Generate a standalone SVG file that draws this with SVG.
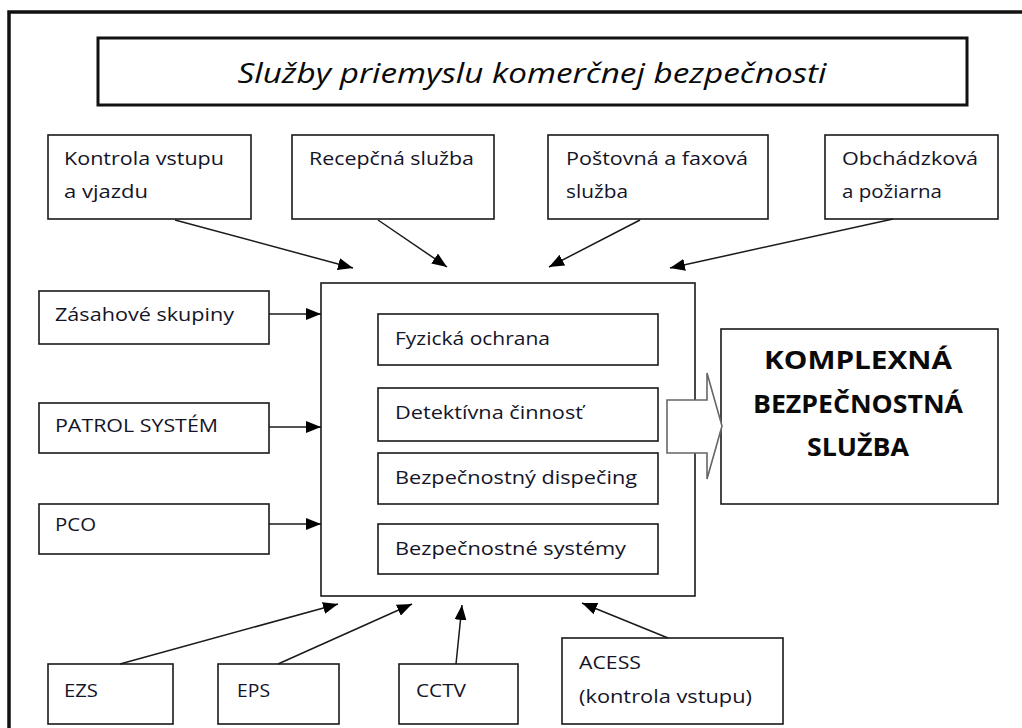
<svg xmlns="http://www.w3.org/2000/svg" width="1022" height="728" viewBox="0 0 1022 728">
  <style>
    .box { fill: #fff; stroke: #1a1a1a; stroke-width: 1.6; }
    .txt { font-family: "Open Sans", "Liberation Sans", sans-serif; font-size: 18.5px; fill: #141428; }
    .big { font-family: "Open Sans", "Liberation Sans", sans-serif; font-size: 25px; font-weight: bold; fill: #0a0a0a; text-anchor: middle; }
    .title { font-family: "Open Sans", "Liberation Sans", sans-serif; font-size: 27px; font-style: italic; fill: #0a0a0a; text-anchor: middle; }
    .conn { stroke: #1a1a1a; stroke-width: 1.5; fill: none; marker-end: url(#head); }
  </style>
  <defs>
    <marker id="head" markerUnits="userSpaceOnUse" markerWidth="16" markerHeight="12" refX="15" refY="6" orient="auto">
      <path d="M0,0 L15,6 L0,12 Z" fill="#000"/>
    </marker>
  </defs>
  <rect width="1022" height="728" fill="#fff"/>

  <!-- outer frame -->
  <path d="M9,728 V12 H1022" fill="none" stroke="#111" stroke-width="3.5"/>

  <!-- title -->
  <g id="title">
    <rect x="98" y="38" width="869" height="67" fill="#fff" stroke="#111" stroke-width="3"/>
    <text class="title" x="532" y="83" textLength="589" lengthAdjust="spacingAndGlyphs">Služby priemyslu komerčnej bezpečnosti</text>
  </g>

  <!-- top row -->
  <g id="kontrola">
    <rect class="box" x="48" y="135" width="203" height="84"/>
    <text class="txt" x="64" y="165" textLength="160" lengthAdjust="spacingAndGlyphs">Kontrola vstupu</text>
    <text class="txt" x="64" y="198" textLength="84" lengthAdjust="spacingAndGlyphs">a vjazdu</text>
  </g>
  <g id="recepcna">
    <rect class="box" x="292" y="135" width="202" height="84"/>
    <text class="txt" x="309" y="165" textLength="165" lengthAdjust="spacingAndGlyphs">Recepčná služba</text>
  </g>
  <g id="postovna">
    <rect class="box" x="548" y="135" width="220" height="84"/>
    <text class="txt" x="566" y="165" textLength="182" lengthAdjust="spacingAndGlyphs">Poštovná a faxová</text>
    <text class="txt" x="566" y="198" textLength="62" lengthAdjust="spacingAndGlyphs">služba</text>
  </g>
  <g id="obchadzkova">
    <rect class="box" x="825" y="135" width="173" height="84"/>
    <text class="txt" x="842" y="165" textLength="136" lengthAdjust="spacingAndGlyphs">Obchádzková</text>
    <text class="txt" x="842" y="198" textLength="100" lengthAdjust="spacingAndGlyphs">a požiarna</text>
  </g>

  <!-- left column -->
  <g id="zasahove">
    <rect class="box" x="39" y="291" width="230" height="53"/>
    <text class="txt" x="55" y="321" textLength="179" lengthAdjust="spacingAndGlyphs">Zásahové skupiny</text>
  </g>
  <g id="patrol">
    <rect class="box" x="39" y="403" width="230" height="50"/>
    <text class="txt" x="55" y="432" textLength="163" lengthAdjust="spacingAndGlyphs">PATROL SYSTÉM</text>
  </g>
  <g id="pco">
    <rect class="box" x="39" y="504" width="230" height="50"/>
    <text class="txt" x="55" y="531" textLength="41" lengthAdjust="spacingAndGlyphs">PCO</text>
  </g>

  <!-- central block -->
  <g id="center">
    <rect class="box" x="321" y="283" width="374" height="313"/>
    <rect class="box" x="378" y="314" width="280" height="51"/>
    <text class="txt" x="395" y="345" textLength="155" lengthAdjust="spacingAndGlyphs">Fyzická ochrana</text>
    <rect class="box" x="378" y="388" width="280" height="53"/>
    <text class="txt" x="395" y="419" textLength="188" lengthAdjust="spacingAndGlyphs">Detektívna činnosť</text>
    <rect class="box" x="378" y="453" width="280" height="51"/>
    <text class="txt" x="395" y="484" textLength="242" lengthAdjust="spacingAndGlyphs">Bezpečnostný dispečing</text>
    <rect class="box" x="378" y="524" width="280" height="50"/>
    <text class="txt" x="395" y="555" textLength="231" lengthAdjust="spacingAndGlyphs">Bezpečnostné systémy</text>
  </g>

  <!-- result -->
  <g id="komplexna">
    <rect class="box" x="721" y="329" width="277" height="175"/>
    <text class="big" x="858" y="369" textLength="188" lengthAdjust="spacingAndGlyphs">KOMPLEXNÁ</text>
    <text class="big" x="858" y="413" textLength="210" lengthAdjust="spacingAndGlyphs">BEZPEČNOSTNÁ</text>
    <text class="big" x="858" y="456" textLength="102" lengthAdjust="spacingAndGlyphs">SLUŽBA</text>
  </g>

  <!-- bottom row -->
  <g id="ezs">
    <rect class="box" x="48" y="664" width="125" height="60"/>
    <text class="txt" x="64" y="697" textLength="34" lengthAdjust="spacingAndGlyphs">EZS</text>
  </g>
  <g id="eps">
    <rect class="box" x="218" y="664" width="121" height="60"/>
    <text class="txt" x="237" y="697" textLength="33" lengthAdjust="spacingAndGlyphs">EPS</text>
  </g>
  <g id="cctv">
    <rect class="box" x="399" y="664" width="119" height="60"/>
    <text class="txt" x="416" y="697" textLength="50" lengthAdjust="spacingAndGlyphs">CCTV</text>
  </g>
  <g id="acess">
    <rect class="box" x="562" y="638" width="221" height="86"/>
    <text class="txt" x="579" y="669" textLength="62" lengthAdjust="spacingAndGlyphs">ACESS</text>
    <text class="txt" x="579" y="703" textLength="173" lengthAdjust="spacingAndGlyphs">(kontrola vstupu)</text>
  </g>

  <!-- connectors -->
  <g id="connectors">
    <line class="conn" x1="175" y1="220" x2="353" y2="268"/>
    <line class="conn" x1="378" y1="220" x2="447" y2="267"/>
    <line class="conn" x1="640" y1="220" x2="549" y2="267"/>
    <line class="conn" x1="893" y1="219" x2="670" y2="268"/>
    <line class="conn" x1="269" y1="314" x2="321" y2="314"/>
    <line class="conn" x1="269" y1="427" x2="321" y2="427"/>
    <line class="conn" x1="269" y1="524" x2="321" y2="524"/>
    <line class="conn" x1="120" y1="664" x2="338" y2="604"/>
    <line class="conn" x1="278" y1="664" x2="412" y2="604"/>
    <line class="conn" x1="456" y1="664" x2="462" y2="605"/>
    <line class="conn" x1="668" y1="638" x2="582" y2="603"/>
    <!-- hollow block arrow to the result box -->
    <polygon points="667,400 707,400 707,373 722,426 707,479 707,453 667,453" fill="#fff" stroke="#666" stroke-width="1.6"/>
  </g>
</svg>
